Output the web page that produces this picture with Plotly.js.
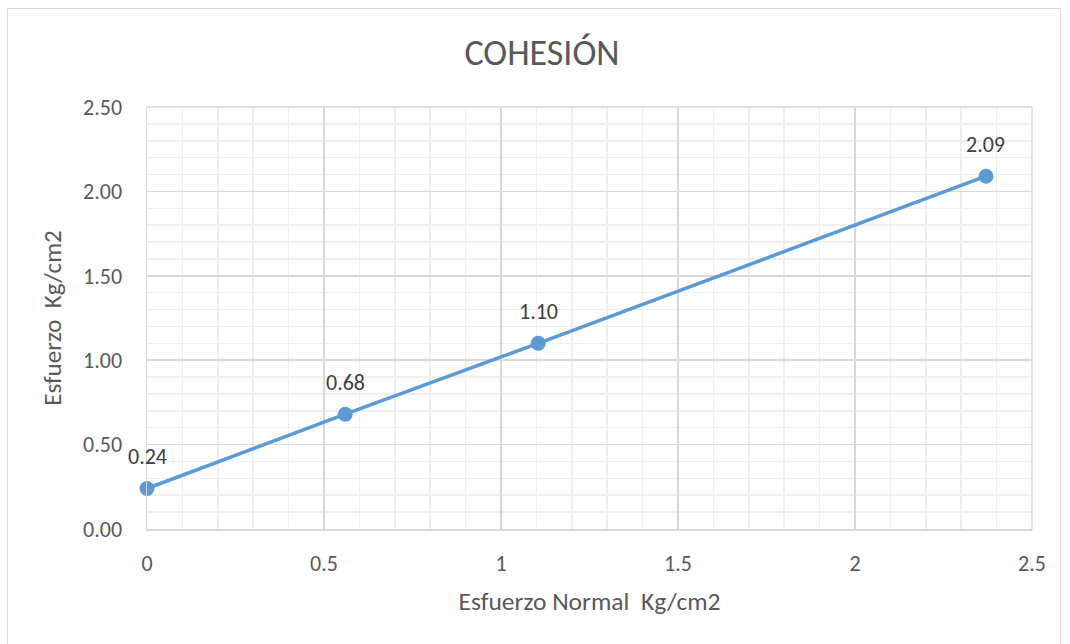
<!DOCTYPE html>
<html>
<head>
<meta charset="utf-8">
<script src="https://cdn.plot.ly/plotly-3.0.1.min.js"></script>
<style>
html,body{margin:0;padding:0;background:#fff;}
#wrap{position:relative;width:1070px;height:644px;}
#frame{position:absolute;left:7px;top:8px;width:1054px;height:640px;border:1px solid #d9d9d9;box-sizing:border-box;pointer-events:none;z-index:5;}
#chart{position:absolute;left:0;top:0;width:1070px;height:644px;}
</style>
</head>
<body>
<div id="wrap"><div id="chart"></div><div id="frame"></div></div>
<script>
const xValues = [0, 0.56, 1.105, 2.37];
const yValues = [0.24, 0.68, 1.10, 2.09];
const labels = yValues.map(v => v.toFixed(2));
const yTicks = [0, 0.5, 1, 1.5, 2, 2.5];
const yTickText = ["0.00", "0.50", "1.00", "1.50", "2.00", "2.50"];
const xTicks = [0, 0.5, 1, 1.5, 2, 2.5];
const xTickText = ["0", "0.5", "1", "1.5", "2", "2.5"];

const font = "Carlito, Calibri, 'Liberation Sans', 'Noto Sans', sans-serif";
const trace = {
  x: xValues, y: yValues, mode: 'lines+markers',
  line: {color: '#5b9bd5', width: 3.5},
  marker: {color: '#5b9bd5', size: 15},
  cliponaxis: false, hoverinfo: 'none'
};
const annotations = xValues.map((x, i) => ({
  x: x, y: yValues[i], xref: 'x', yref: 'y', text: labels[i],
  showarrow: false, yshift: 32, xanchor: 'center', yanchor: 'middle',
  font: {family: font, size: 22, color: '#404040'}
}));
const layout = {
  width: 1070, height: 644,
  margin: {l: 147, r: 38, t: 107, b: 115},
  paper_bgcolor: '#fff', plot_bgcolor: '#fff',
  showlegend: false,
  font: {family: font, color: '#595959', size: 22},
  title: {text: 'COHESIÓN', x: 0.5065, xanchor: 'center', y: 0.919, yanchor: 'middle',
          font: {family: font, size: 36, color: '#595959'}},
  xaxis: {
    range: [0, 2.5], tickvals: xTicks, ticktext: xTickText, ticks: '',
    showgrid: true, gridcolor: '#d9d9d9', gridwidth: 1.5,
    minor: {dtick: 0.1, showgrid: true, gridcolor: '#efefef', gridwidth: 1.5},
    zeroline: false, showline: true, linecolor: '#d9d9d9', linewidth: 1.5,
    tickfont: {size: 22, color: '#595959'}, ticklabelstandoff: 14,
    title: {text: 'Esfuerzo Normal\u00A0\u00A0Kg/cm2', standoff: 16, font: {size: 25.5, color: '#595959'}},
    fixedrange: true
  },
  yaxis: {
    range: [0, 2.5], tickvals: yTicks, ticktext: yTickText, ticks: '',
    showgrid: true, gridcolor: '#d9d9d9', gridwidth: 1.5,
    minor: {dtick: 0.1, showgrid: true, gridcolor: '#efefef', gridwidth: 1.5},
    zeroline: false, showline: true, linecolor: '#d9d9d9', linewidth: 1.5,
    tickfont: {size: 22, color: '#595959'}, ticklabelstandoff: 19,
    title: {text: 'Esfuerzo\u00A0\u00A0Kg/cm2', standoff: 14, font: {size: 25, color: '#595959'}},
    fixedrange: true
  },
  annotations: annotations,
  shapes: [
    {type: 'line', xref: 'paper', yref: 'paper', x0: 1, x1: 1, y0: 0, y1: 1, line: {color: '#d9d9d9', width: 1.5}},
    {type: 'line', xref: 'paper', yref: 'paper', x0: 0, x1: 1, y0: 1, y1: 1, line: {color: '#d9d9d9', width: 1.5}}
  ]
};
Plotly.newPlot('chart', [trace], layout, {displayModeBar: false, staticPlot: true});
</script>
</body>
</html>
